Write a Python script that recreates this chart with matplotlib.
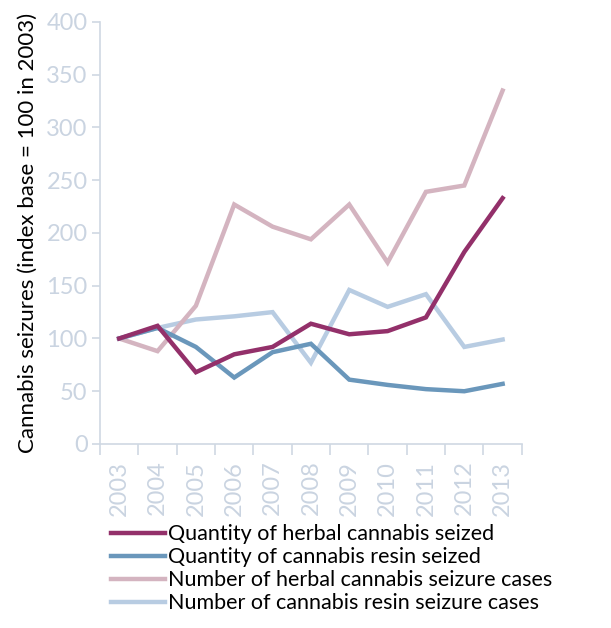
import matplotlib
matplotlib.use('Agg')
import matplotlib.pyplot as plt

years = ['2003', '2004', '2005', '2006', '2007', '2008', '2009', '2010', '2011', '2012', '2013']
herbal_qty = [100, 112, 68, 85, 92, 114, 104, 107, 120, 182, 233]
resin_qty = [100, 110, 92, 63, 87, 95, 61, 56, 52, 50, 57]
herbal_cases = [100, 88, 131, 227, 206, 194, 227, 172, 239, 245, 335]
resin_cases = [100, 110, 118, 121, 125, 77, 146, 130, 142, 92, 99]

series = [
    ('Quantity of herbal cannabis seized', herbal_qty, '#93306a'),
    ('Quantity of cannabis resin seized', resin_qty, '#6a97bb'),
    ('Number of herbal cannabis seizure cases', herbal_cases, '#d4b4c0'),
    ('Number of cannabis resin seizure cases', resin_cases, '#b8cce2'),
]

axis_col = '#cfd8e3'
tick_col = '#cad4e1'

plt.rcParams['font.family'] = ['Lato', 'DejaVu Sans']

fig = plt.figure(figsize=(6.11, 6.28), dpi=100)
ax = fig.add_axes([0.1637, 0.293, 0.6903, 0.672])

x = list(range(len(years)))
# draw in reverse so the dark series sit on top
for label, vals, col in reversed(series):
    ax.plot(x, vals, color=col, lw=3.2, label=label, solid_joinstyle='miter')

ax.set_xlim(-0.5, len(years) - 0.5)
ax.set_ylim(0, 400)
ax.set_yticks(range(0, 401, 50))
ax.set_xticks(x)
ax.set_xticklabels(years, rotation=90)
ax.set_xticks([i - 0.5 for i in range(len(years) + 1)], minor=True)
ax.tick_params(axis='x', which='major', length=0, pad=12, labelsize=17, labelcolor=tick_col)
ax.tick_params(axis='x', which='minor', length=8, color=axis_col, width=1.2, direction='out')
ax.tick_params(axis='y', length=6, color=axis_col, width=1.2, labelsize=17,
               labelcolor=tick_col, pad=3)

for s in ['top', 'right']:
    ax.spines[s].set_visible(False)
for s in ['left', 'bottom']:
    ax.spines[s].set_color(axis_col)
    ax.spines[s].set_linewidth(1.2)

ax.set_ylabel('Cannabis seizures (index base = 100 in 2003)', fontsize=16,
              color='black', labelpad=6)

handles, labels = ax.get_legend_handles_labels()
fig.legend(handles[::-1], labels[::-1], loc='upper left',
           bbox_to_anchor=(0.182, 0.165), frameon=False, fontsize=15.5,
           handlelength=2.5, handletextpad=0.12, labelspacing=0.14,
           borderaxespad=0, borderpad=0)

fig.savefig('out.png', dpi=100)
